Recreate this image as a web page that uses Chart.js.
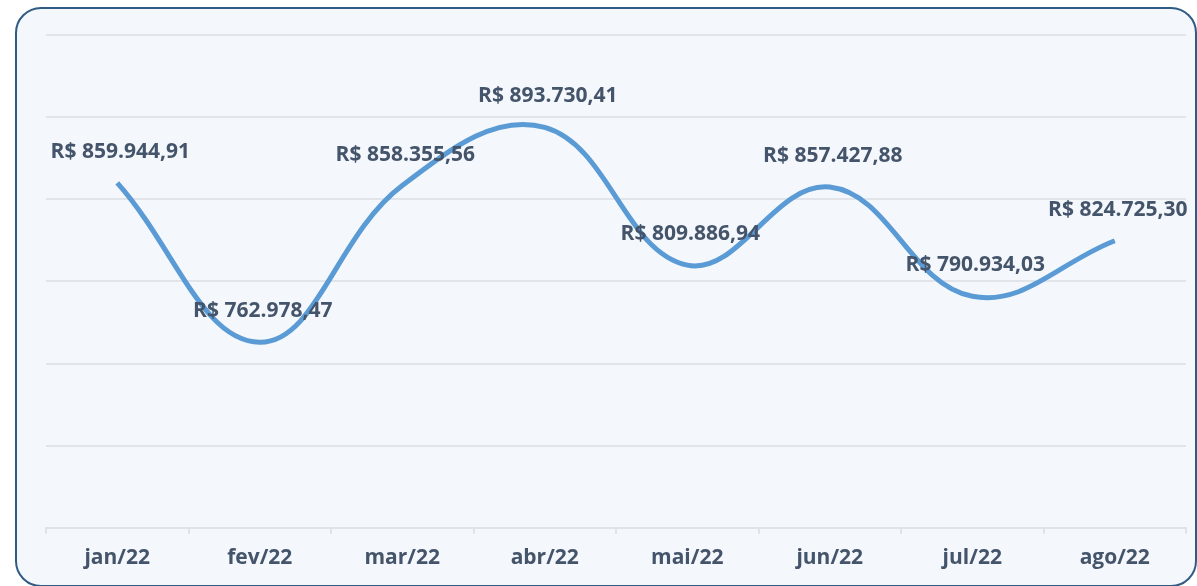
<!DOCTYPE html>
<html lang="pt">
<head>
    <meta charset="UTF-8">
    <script src="https://cdn.jsdelivr.net/npm/chart.js@4.2.1/dist/chart.umd.min.js"></script>
    <title>Faturamento mensal</title>
    <style>
        html, body { margin: 0; padding: 0; background: #ffffff; }
        #wrap { position: relative; width: 1197px; height: 586px; overflow: hidden; }
        #frame {
            position: absolute; left: 15px; top: 7px; width: 1178px; height: 576px;
            border: 2px solid #2f5b85; border-radius: 26px; background: #f4f7fb;
        }
        #box { position: absolute; left: 0; top: 0; width: 1197px; height: 586px; }
    </style>
</head>
<body>
    <div id="wrap">
        <div id="frame"></div>
        <div id="box"><canvas id="chart"></canvas></div>
    </div>
    <script>
        const meses = ['jan/22', 'fev/22', 'mar/22', 'abr/22', 'mai/22', 'jun/22', 'jul/22', 'ago/22'];
        const valores = [859944.91, 762978.47, 858355.56, 893730.41, 809886.94, 857427.88, 790934.03, 824725.30];

        const textColor = '#44546a';

        function formatBRL(v) {
            return 'R$ ' + v.toLocaleString('pt-BR', { minimumFractionDigits: 2, maximumFractionDigits: 2 });
        }

        // rótulos de dados acima de cada ponto
        const rotulos = {
            id: 'rotulos',
            afterDatasetsDraw(chart) {
                const ctx = chart.ctx;
                const meta = chart.getDatasetMeta(0);
                ctx.save();
                ctx.font = 'bold 21px "Open Sans"';
                ctx.fillStyle = textColor;
                ctx.textAlign = 'center';
                ctx.textBaseline = 'middle';
                meta.data.forEach((pt, i) => {
                    ctx.fillText(formatBRL(valores[i]), pt.x + 3, pt.y - 31);
                });
                ctx.restore();
            }
        };

        new Chart(document.getElementById('chart'), {
            type: 'line',
            data: {
                labels: meses,
                datasets: [{
                    data: valores,
                    borderColor: '#5b9bd5',
                    borderWidth: 5,
                    tension: 0.4,
                    pointRadius: 0,
                    fill: false
                }]
            },
            options: {
                responsive: true,
                maintainAspectRatio: false,
                animation: false,
                layout: { padding: { left: 46, right: 11, top: 35, bottom: 3 } },
                plugins: { legend: { display: false }, tooltip: { enabled: false } },
                scales: {
                    x: {
                        offset: true,
                        grid: { offset: true, drawOnChartArea: false, color: '#dfe3e8', lineWidth: 2, tickLength: 6 },
                        border: { color: '#dfe3e8', width: 2 },
                        ticks: {
                            color: textColor,
                            padding: 12,
                            font: { family: '"Open Sans"', size: 21, weight: 'bold' }
                        }
                    },
                    y: {
                        min: 650000,
                        max: 950000,
                        ticks: { stepSize: 50000, display: false },
                        grid: { color: '#e1e5ea', lineWidth: 2, drawTicks: false },
                        border: { display: false }
                    }
                }
            },
            plugins: [rotulos]
        });
    </script>
</body>
</html>
